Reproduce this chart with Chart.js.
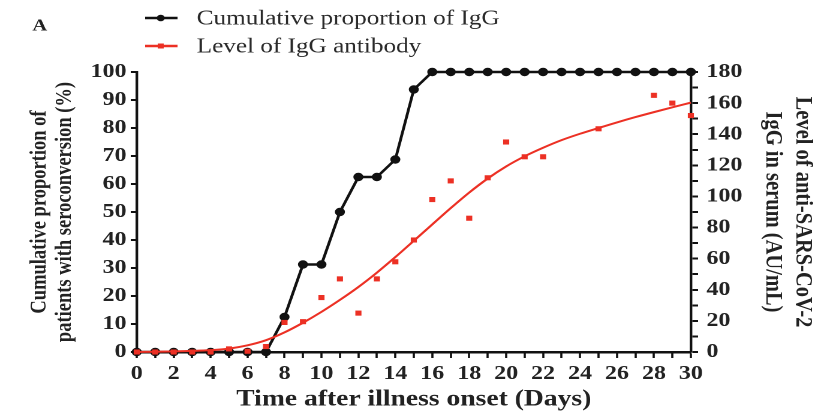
<!DOCTYPE html>
<html>
<head>
<meta charset="utf-8">
<script src="https://cdn.jsdelivr.net/npm/chart.js@4"></script>
<style>
  html, body { margin: 0; padding: 0; background: #fff; overflow: hidden; }
  /* the source figure is stretched horizontally, so draw narrow and widen it */
  #wrap { width: 682px; height: 411px; position: relative; transform: scaleX(1.19941); transform-origin: 0 0; }
</style>
</head>
<body>
<div id="wrap"><canvas id="chart"></canvas></div>
<script>
// days 0..30
const days = [0,1,2,3,4,5,6,7,8,9,10,11,12,13,14,15,16,17,18,19,20,21,22,23,24,25,26,27,28,29,30];
// cumulative proportion of IgG seroconversion (%)
const cumulativeIgG = [0,0,0,0,0,0,0,0,12.5,31.25,31.25,50,62.5,62.5,68.75,93.75,100,100,100,100,100,100,100,100,100,100,100,100,100,100,100];
// measured IgG levels (AU/mL)
const levelDays = [0,1,2,3,4,5,6,7,8,9,10,11,12,13,14,15,16,17,18,19,20,21,22,25,28,29,30];
const levelIgG = [0,0,0,0,0,2,0.5,3.5,19,19.5,35,47,25,47,58,72,98,110,86,112,135,125.5,125.5,143.5,165,160,152];
// fitted curve
const fitIgG = [0,0.2,0.4,0.7,1.2,2.2,4.3,7.6,12.6,18.8,25.8,33.5,41.8,51,61,71.5,82,92.5,102.5,111.5,119.3,125.8,131.3,136.2,140.3,144,147.6,151,154.2,157.3,160.3];

const leftTicks = [0,10,20,30,40,50,60,70,80,90,100];
const rightTicks = [0,20,40,60,80,100,120,140,160,180];

const RED = 'rgb(236,48,36)';
const BLACK = '#111';
const serif = "'Liberation Serif', 'Times New Roman', serif";

const legendPlugin = {
  id: 'figLegend',
  afterDraw(chart) {
    const ctx = chart.ctx;
    ctx.save();
    ctx.fillStyle = '#222';
    ctx.font = 'bold 17px ' + serif;
    ctx.textBaseline = 'middle';
    ctx.fillText('A', 27, 26);

    const items = [
      { y: 18, color: BLACK, label: 'Cumulative proportion of IgG', dot: 'circle' },
      { y: 46, color: RED, label: 'Level of IgG antibody', dot: 'rect' }
    ];
    items.forEach(it => {
      ctx.strokeStyle = it.color;
      ctx.fillStyle = it.color;
      ctx.lineWidth = 2.5;
      ctx.beginPath();
      ctx.moveTo(121, it.y);
      ctx.lineTo(148, it.y);
      ctx.stroke();
      if (it.dot === 'circle') {
        ctx.beginPath();
        ctx.arc(134, it.y, 3.3, 0, Math.PI * 2);
        ctx.fill();
      } else {
        ctx.fillRect(131.5, it.y - 2.5, 5, 5);
      }
      ctx.fillStyle = '#2a2a2a';
      ctx.font = '21px ' + serif;
      ctx.fillText(it.label, 164, it.y + 1);
    });
    ctx.restore();
  }
};

new Chart(document.getElementById('chart'), {
  type: 'line',
  data: {
    datasets: [
      {
        label: 'Cumulative proportion of IgG',
        data: days.map((d, i) => ({ x: d, y: cumulativeIgG[i] })),
        yAxisID: 'y',
        borderColor: BLACK,
        backgroundColor: BLACK,
        borderWidth: 2.4,
        pointRadius: 4.2,
        pointBackgroundColor: BLACK,
        pointBorderWidth: 0,
        tension: 0,
        clip: false,
        order: 3
      },
      {
        label: 'Fit',
        data: days.map((d, i) => ({ x: d, y: fitIgG[i] })),
        yAxisID: 'y2',
        borderColor: RED,
        borderWidth: 2,
        pointRadius: 0,
        cubicInterpolationMode: 'monotone',
        clip: false,
        order: 2
      },
      {
        label: 'Level of IgG antibody',
        data: levelDays.map((d, i) => ({ x: d, y: levelIgG[i] })),
        yAxisID: 'y2',
        showLine: false,
        pointStyle: 'rect',
        pointRadius: 3.6,
        pointBackgroundColor: RED,
        pointBorderWidth: 0,
        clip: false,
        order: 1
      }
    ]
  },
  options: {
    responsive: true,
    maintainAspectRatio: false,
    devicePixelRatio: 2,
    animation: false,
    layout: { padding: { top: 72, left: 0, right: 0, bottom: 0 } },
    plugins: {
      legend: { display: false },
      tooltip: { enabled: false }
    },
    scales: {
      x: {
        type: 'linear',
        min: 0,
        max: 30,
        afterFit: (scale) => { scale.height = 59; },
        border: { color: BLACK, width: 2.5 },
        grid: { drawOnChartArea: false, color: BLACK, tickLength: 6, tickWidth: 1.8 },
        ticks: {
          stepSize: 1,
          autoSkip: false,
          maxRotation: 0,
          padding: 4,
          color: '#222',
          font: { family: serif, size: 20, weight: 'bold' },
          callback: (v) => (v % 2 === 0 ? v : '')
        },
        title: {
          display: true,
          text: 'Time after illness onset (Days)',
          color: '#222',
          font: { family: serif, size: 23, weight: 'bold', lineHeight: 1.0 },
          padding: { top: 0, bottom: 0 }
        }
      },
      y: {
        position: 'left',
        min: 0,
        max: 100,
        afterFit: (scale) => { scale.width = 114; },
        afterBuildTicks: (scale) => { scale.ticks = leftTicks.map(v => ({ value: v })); },
        border: { color: BLACK, width: 2.2 },
        grid: { drawOnChartArea: false, color: BLACK, tickLength: 5, tickWidth: 2 },
        ticks: {
          padding: 3.5,
          color: '#222',
          font: { family: serif, size: 20, weight: 'bold' }
        },
        title: {
          display: true,
          text: ['Cumulative proportion of', 'patients with seroconversion (%)'],
          color: '#222',
          font: { family: serif, size: 18.5, weight: 'bold', lineHeight: 1.14 },
          padding: { top: 22.5, bottom: 0 }
        }
      },
      y2: {
        position: 'right',
        min: 0,
        max: 180,
        afterFit: (scale) => { scale.width = 106; },
        border: { color: BLACK, width: 2.2 },
        grid: { drawOnChartArea: false, color: BLACK, tickLength: 6, tickWidth: 2 },
        ticks: {
          stepSize: 10,
          autoSkip: false,
          padding: 7,
          color: '#222',
          font: { family: serif, size: 20, weight: 'bold' },
          callback: (v) => (rightTicks.includes(v) ? v : '')
        },
        title: {
          display: true,
          text: ['Level of anti-SARS-CoV-2', 'IgG in serum (AU/mL)'],
          color: '#222',
          font: { family: serif, size: 20.5, weight: 'bold', lineHeight: 1.22 },
          padding: { top: 0, bottom: 0 }
        }
      }
    }
  },
  plugins: [legendPlugin]
});
</script>
</body>
</html>
